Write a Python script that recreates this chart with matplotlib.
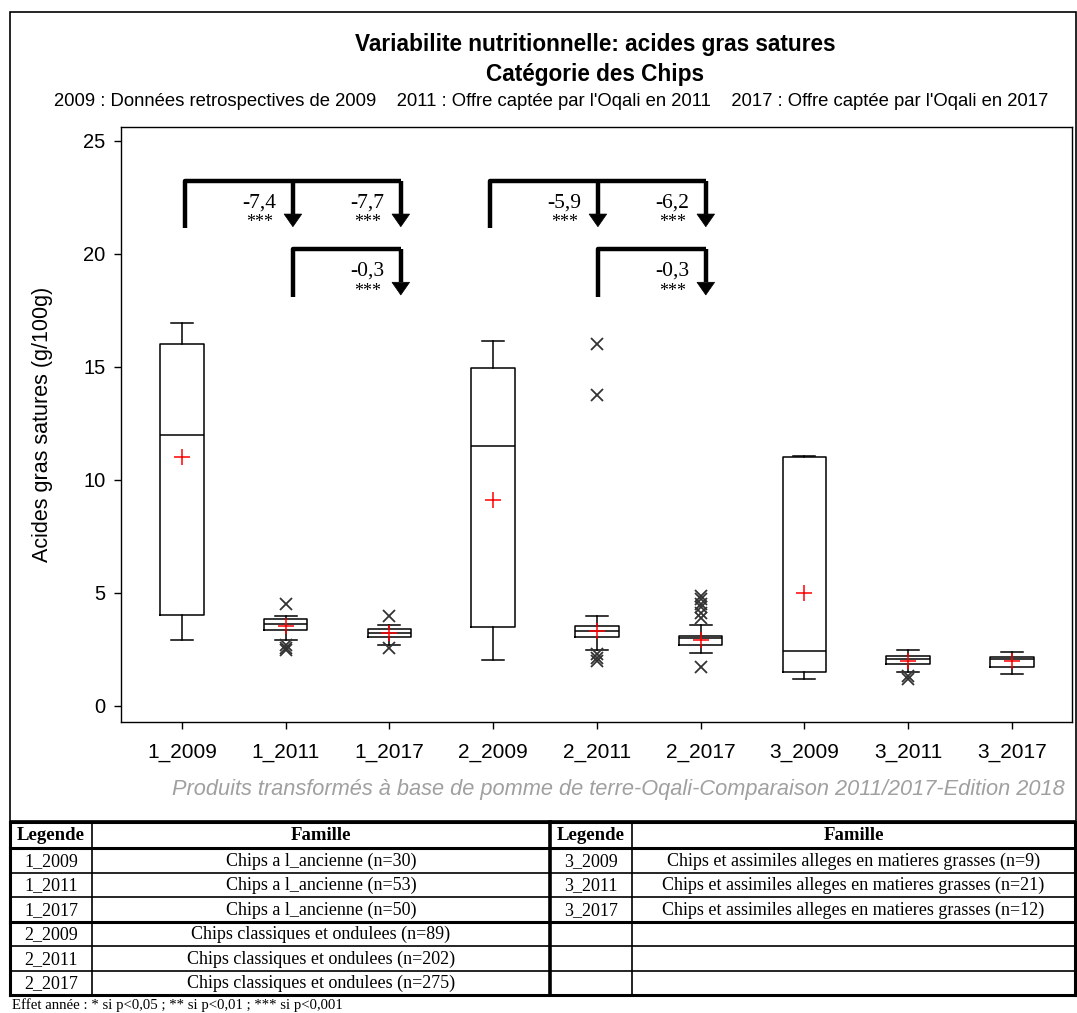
import matplotlib
matplotlib.use("Agg")
import matplotlib.pyplot as plt
from matplotlib.patches import Polygon, Rectangle
from matplotlib.lines import Line2D

# --- data ---
labels = ['1_2009', '1_2011', '1_2017', '2_2009', '2_2011', '2_2017', '3_2009', '3_2011', '3_2017']
whislo = [2.9, 2.92, 2.68, 2.03, 2.48, 2.31, 1.19, 1.49, 1.42]
q1 = [4.0, 3.33, 3.05, 3.5, 3.05, 2.68, 1.5, 1.86, 1.73]
med = [12.0, 3.6, 3.2, 11.5, 3.3, 3.0, 2.4, 2.05, 2.05]
q3 = [16.0, 3.85, 3.38, 14.96, 3.52, 3.07, 11.0, 2.18, 2.17]
whishi = [16.95, 3.95, 3.58, 16.15, 3.95, 3.57, 11.05, 2.46, 2.39]
means = [11.0, 3.54, 3.23, 9.1, 3.3, 2.9, 5.0, 1.96, 1.99]
fliers = [[], [4.5, 2.7, 2.55, 2.45], [3.98, 2.57], [],
          [16.0, 13.75, 2.3, 2.1, 1.98], [4.85, 4.7, 4.5, 4.35, 4.1, 3.9, 1.72],
          [], [1.3, 1.2], []]

diffs_top = ['-7,4', '-7,7', '-5,9', '-6,2']
diffs_bot = ['-0,3', '-0,3']
signif = '***'

leg_left = ['1_2009', '1_2011', '1_2017', '2_2009', '2_2011', '2_2017']
fam_left = ['Chips a l_ancienne (n=30)', 'Chips a l_ancienne (n=53)', 'Chips a l_ancienne (n=50)',
            'Chips classiques et ondulees (n=89)', 'Chips classiques et ondulees (n=202)',
            'Chips classiques et ondulees (n=275)']
leg_right = ['3_2009', '3_2011', '3_2017', '', '', '']
fam_right = ['Chips et assimiles alleges en matieres grasses (n=9)',
             'Chips et assimiles alleges en matieres grasses (n=21)',
             'Chips et assimiles alleges en matieres grasses (n=12)', '', '', '']

W, H = 1077, 1013
fig = plt.figure(figsize=(W / 100, H / 100), dpi=100)


def fx(px):
    return px / W


def fy(py):
    return 1 - py / H


sans = 'Liberation Sans'
serif = 'Liberation Serif'

# outer frame around the chart
fig.add_artist(Rectangle((fx(10), fy(821)), fx(1066), 809 / H, transform=fig.transFigure,
                         fill=False, lw=1.2, ec='black'))

ax = fig.add_axes([fx(120.7), fy(721.7), fx(1072 - 120.7), (721.7 - 127.3) / H])

stats = []
for i in range(len(labels)):
    stats.append(dict(med=med[i], q1=q1[i], q3=q3[i], whislo=whislo[i], whishi=whishi[i],
                      mean=means[i], fliers=fliers[i], label=labels[i]))
pos = list(range(1, len(labels) + 1))
ax.bxp(stats, positions=pos, widths=0.42, showmeans=True, showfliers=True,
       boxprops=dict(color='black', lw=1.1),
       whiskerprops=dict(color='black', lw=1.1),
       capprops=dict(color='black', lw=1.1),
       medianprops=dict(color='black', lw=1.1),
       meanprops=dict(marker='+', markeredgecolor='red', markersize=11, markeredgewidth=1.1),
       flierprops=dict(marker='x', markeredgecolor='#333333', markersize=8, markeredgewidth=1.3))

ax.set_xlim(0.41, 9.58)
ax.set_ylim(-0.71, 25.6)
ax.set_yticks([0, 5, 10, 15, 20, 25])
ax.set_xticks(pos)
ax.set_xticklabels(labels, fontfamily=sans, fontsize=15)
for t in ax.get_yticklabels():
    t.set_fontfamily(sans)
    t.set_fontsize(14.5)
ax.tick_params(direction='out', length=5, width=1, pad=6)
ax.tick_params(axis='x', pad=10)
for s in ax.spines.values():
    s.set_linewidth(1)
ax.set_ylabel('Acides gras satures (g/100g)', fontfamily=sans, fontsize=15.5, labelpad=22)

# comparison brackets
lw = 3.2
head_w, head_h = 0.085, 0.56


def arrow(x, top, tip):
    ax.add_line(Line2D([x, x], [top, tip + head_h], lw=lw, color='black',
                       solid_capstyle='butt', solid_joinstyle='round'))
    ax.add_patch(Polygon([(x - head_w, tip + head_h), (x + head_w, tip + head_h), (x, tip)],
                         closed=True, fc='black', ec='black', lw=0.5))


k = 0
for g in [1.03, 3.97]:
    xs = [g, g + 1.04, g + 2.08]
    # top bracket
    ax.add_line(Line2D([xs[0], xs[0], xs[2]], [21.15, 23.23, 23.23], lw=lw, color='black',
                       solid_joinstyle='round', solid_capstyle='butt'))
    arrow(xs[1], 23.23, 21.2)
    arrow(xs[2], 23.23, 21.2)
    for j in range(2):
        ax.text(xs[j + 1] - 0.32, 22.25, diffs_top[k * 2 + j], ha='center', va='center',
                fontfamily=serif, fontsize=15.5)
        ax.text(xs[j + 1] - 0.32, 21.38, signif, ha='center', va='center',
                fontfamily=serif, fontsize=13)
    # lower bracket
    ax.add_line(Line2D([xs[1], xs[1], xs[2]], [18.1, 20.2, 20.2], lw=lw, color='black',
                       solid_joinstyle='round', solid_capstyle='butt'))
    arrow(xs[2], 20.2, 18.18)
    ax.text(xs[2] - 0.32, 19.22, diffs_bot[k], ha='center', va='center',
            fontfamily=serif, fontsize=15.5)
    ax.text(xs[2] - 0.32, 18.35, signif, ha='center', va='center',
            fontfamily=serif, fontsize=13)
    k += 1

# titles
fig.text(fx(595), fy(45), 'Variabilite nutritionnelle: acides gras satures', ha='center',
         va='center', fontfamily=sans, fontweight='bold', fontsize=16.3)
fig.text(fx(595), fy(74), 'Catégorie des Chips', ha='center', va='center',
         fontfamily=sans, fontweight='bold', fontsize=16.3)
fig.text(fx(551), fy(101),
         "2009 : Données retrospectives de 2009    2011 : Offre captée par l'Oqali en 2011    "
         "2017 : Offre captée par l'Oqali en 2017",
         ha='center', va='center', fontfamily=sans, fontsize=13.3)
fig.text(fx(1065), fy(790),
         'Produits transformés à base de pomme de terre-Oqali-Comparaison 2011/2017-Edition 2018',
         ha='right', va='center', fontfamily=sans, fontstyle='italic', fontsize=15.7, color='#a0a0a0')

# legend table below the chart
row_lines = [822, 848, 872.5, 897, 921.5, 946, 970.5, 995]
thick_rows = [822, 848, 921.5, 995]
col_left = [10, 92, 550]
col_right = [550, 632, 1075]


def hline(y, x0, x1, w):
    fig.add_artist(Line2D([fx(x0), fx(x1)], [fy(y), fy(y)], transform=fig.transFigure,
                          color='black', lw=w))


def vline(x, y0, y1, w):
    fig.add_artist(Line2D([fx(x), fx(x)], [fy(y0), fy(y1)], transform=fig.transFigure,
                          color='black', lw=w))


for y in row_lines:
    w = 2.2 if y in thick_rows else 1.2
    hline(y, 10, 1075, w)
vline(10, 822, 995, 2.2)
vline(92, 822, 995, 1.2)
vline(550, 822, 995, 2.6)
vline(632, 822, 995, 1.2)
vline(1075, 822, 995, 2.2)


def cell(x0, x1, y0, y1, txt, bold=False):
    fig.text(fx((x0 + x1) / 2), fy((y0 + y1) / 2 + 1), txt, ha='center', va='center',
             fontfamily=serif, fontsize=13.5 if bold else 13,
             fontweight='bold' if bold else 'normal')


for cols in [col_left, col_right]:
    cell(cols[0], cols[1], row_lines[0], row_lines[1], 'Legende', bold=True)
    cell(cols[1], cols[2], row_lines[0], row_lines[1], 'Famille', bold=True)
for i in range(6):
    y0, y1 = row_lines[i + 1], row_lines[i + 2]
    cell(col_left[0], col_left[1], y0, y1, leg_left[i])
    cell(col_left[1], col_left[2], y0, y1, fam_left[i])
    cell(col_right[0], col_right[1], y0, y1, leg_right[i])
    cell(col_right[1], col_right[2], y0, y1, fam_right[i])

fig.text(fx(12), fy(1005), 'Effet année : * si p<0,05 ; ** si p<0,01 ; *** si p<0,001',
         ha='left', va='center', fontfamily=serif, fontsize=10.6)

fig.savefig('out.png', dpi=100)
